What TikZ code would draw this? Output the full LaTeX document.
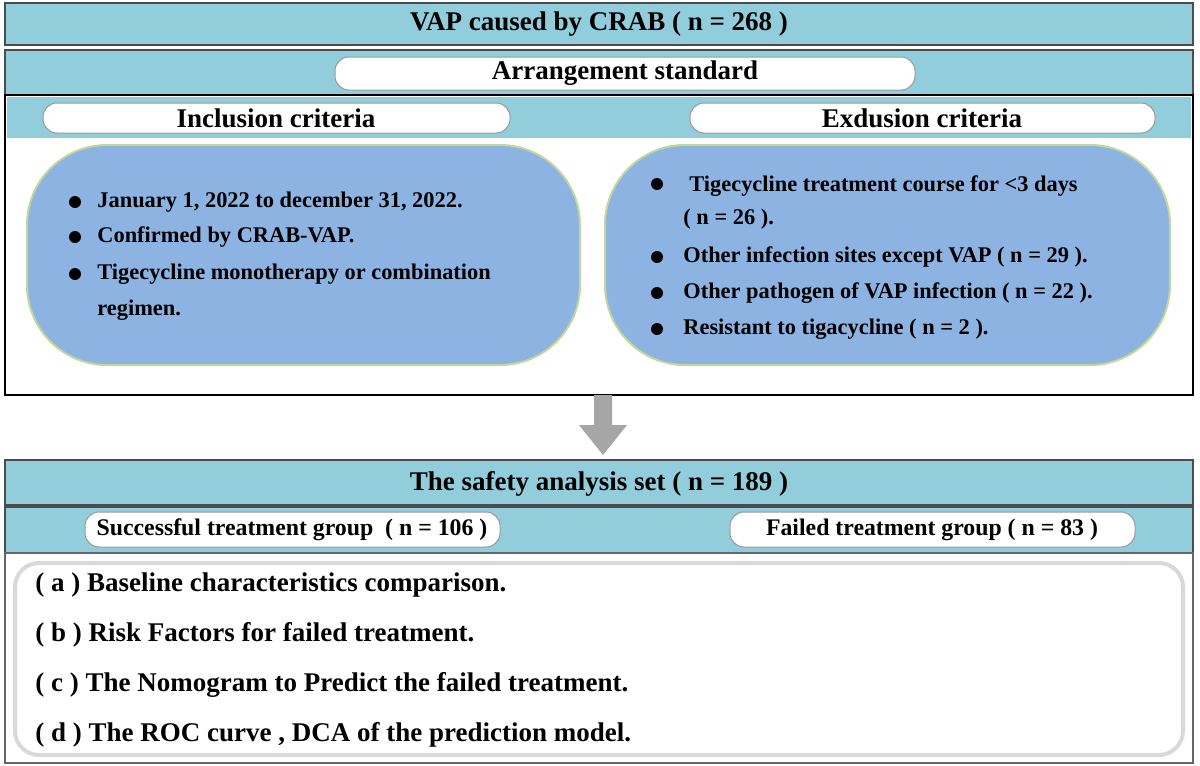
\documentclass[tikz,border=0pt]{standalone}
\usepackage{fontspec}
\setmainfont{Liberation Serif}
\usetikzlibrary{positioning}
\definecolor{bandblue}{HTML}{92CDDC}
\definecolor{blobblue}{HTML}{8DB3E2}
\definecolor{blobedge}{HTML}{C3D69B}
\tikzset{
  band/.style={draw=black!70, fill=bandblue, line width=0.8pt},
  pill/.style={draw=black!40, fill=white, rounded corners=7pt, line width=0.5pt},
  blob/.style={draw=blobedge, fill=blobblue, rounded corners=40pt, line width=1pt},
  txt/.style={font=\fontsize{11.2}{13}\selectfont\bfseries, inner sep=0pt},
  grouptxt/.style={font=\fontsize{11.9}{14}\selectfont\bfseries, inner sep=0pt},
  bigtxt/.style={font=\fontsize{13.5}{16}\selectfont\bfseries, inner sep=0pt},
  item/.style={txt, anchor=west},
  result/.style={bigtxt, anchor=west},
  dot/.style={circle, fill=black, inner sep=0pt, minimum size=6pt}
}
\begin{document}
\begin{tikzpicture}[x=0.5pt, y=-0.5pt]
  \useasboundingbox (0,0) rectangle (1200,766);
  % top title
  \draw[band] (5,3) rectangle (1193,45);
  \node[bigtxt] (title) at (599,24) {VAP caused by CRAB ( n = 268 )};
  % arrangement standard
  \draw[band] (5,50) rectangle (1193,95);
  \draw[pill] (335,57) rectangle (915,90);
  \node[bigtxt] (arr) at (625,73) {Arrangement standard};
  % criteria frame
  \draw[line width=1pt] (5,95) rectangle (1193,395);
  \draw[band, draw=none] (7,97) rectangle (1191,138);
  \draw[pill] (43,103) rectangle (510,133);
  \draw[pill] (690,103) rectangle (1155,133);
  \node[bigtxt] (inc) at (276,118) {Inclusion criteria};
  \node[bigtxt] (exc) at (922,118) {Exdusion criteria};
  % blobs
  \draw[blob] (27,145) rectangle (580,365);
  \draw[blob] (605,145) rectangle (1170,365);
  \foreach \y/\t in {202/{January 1, 2022 to december 31, 2022.},
                     237/{Confirmed by CRAB-VAP.},
                     274/{Tigecycline monotherapy or combination}}
    \node[dot] at (75,\y) {} node[item] at (97,\y) {\t};
  \node[item] (reg) at (97,310) {regimen.};
  \node[dot] at (657,184) {};
  \node[item] (tig) at (689,186) {Tigecycline treatment course for <3 days};
  \node[item] (tign) at (683,219) {( n = 26 ).};
  \foreach \y/\t in {257/{Other infection sites except VAP ( n = 29 ).},
                     293/{Other pathogen of VAP infection ( n = 22 ).},
                     329/{Resistant to tigacycline ( n = 2 ).}}
    \node[dot] at (657,\y) {} node[item] at (683,\y) {\t};
  % arrow
  \coordinate (atop) at (603,395);
  \coordinate (abot) at (603,455);
  \fill[gray!70] (594,395) -- (612,395) -- (612,425) -- (627,425) -- (abot)
    -- (579,425) -- (594,425) -- cycle;
  % safety set
  \draw[band] (5,460) rectangle (1193,505);
  \node[bigtxt] (safe) at (599,484) {The safety analysis set ( n = 189 )};
  \draw[band] (5,507) rectangle (1193,553);
  \draw[pill] (85,512) rectangle (500,547);
  \draw[pill] (730,512) rectangle (1135,547);
  \node[grouptxt] (succ) at (292,530) {Successful treatment group\enspace( n = 106 )};
  \node[grouptxt] (fail) at (932,530) {Failed treatment group ( n = 83 )};
  % analyses
  \draw[draw=black!60, line width=0.8pt] (5,553) rectangle (1193,763);
  \draw[draw=black!15, fill=white, rounded corners=12pt, line width=2pt] (15,563) rectangle (1183,755);
  \foreach \y/\t in {585/{( a ) Baseline characteristics comparison.},
                     635/{( b ) Risk Factors for failed treatment.},
                     685/{( c ) The Nomogram to Predict the failed treatment.},
                     735/{( d ) The ROC curve , DCA of the prediction model.}}
    \node[result] at (35,\y) {\t};
\end{tikzpicture}
\end{document}
